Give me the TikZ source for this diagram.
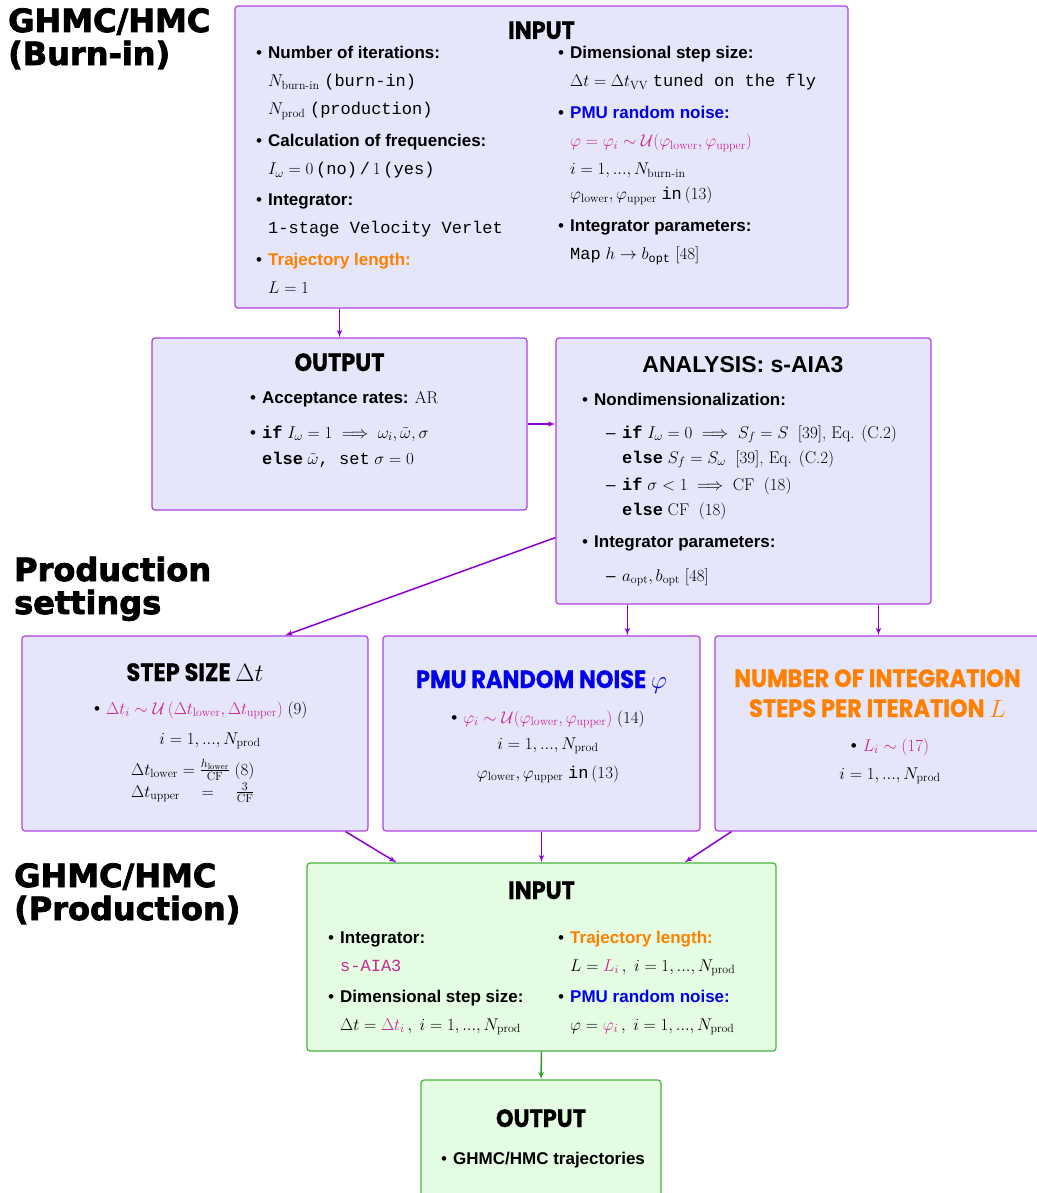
\RequirePackage{fix-cm}
\documentclass[tikz,border=0pt]{standalone}
\usepackage{amsmath}
\usepackage{fontspec}
\setsansfont{Liberation Sans}
\setmonofont{Liberation Mono}
\newfontfamily\headfont{Poppins}[FakeStretch=0.9, FakeBold=0.6]
\newfontfamily\sidefont{DejaVu Sans}[FakeBold=2.5]
\usepackage{tikz}
\usepgflibrary{arrows}
\usetikzlibrary{arrows.meta}

\definecolor{boxfill}{RGB}{230,230,250}
\definecolor{boxline}{RGB}{175,65,228}
\definecolor{arrowcol}{RGB}{140,0,210}
\definecolor{gfill}{RGB}{228,252,226}
\definecolor{gline}{RGB}{70,180,60}
\definecolor{garrow}{RGB}{40,160,30}
\definecolor{pinkm}{RGB}{200,40,145}
\definecolor{orng}{RGB}{255,128,0}
\definecolor{blu}{RGB}{0,0,235}

\newcommand{\bul}{\makebox[12pt][l]{\textbullet}}
\newcommand{\itm}[1]{\bul\textbf{#1}}
\newcommand{\subln}[1]{\hspace*{12pt}#1}
\newcommand{\dsh}{\hspace*{24pt}\makebox[16pt][l]{--}}
\newcommand{\dsub}{\hspace*{40pt}}
\newcommand{\lcol}[1]{\begin{tabular}[t]{@{}l@{}}#1\end{tabular}}
\newcommand{\ccol}[1]{\begin{tabular}[t]{@{}c@{}}#1\end{tabular}}

\begin{document}
\begin{tikzpicture}[x=1pt,y=-1pt]
			\tikzset{box/.style = {shape=rectangle, draw=boxline, fill=boxfill,
					rounded corners=3pt, line width=1.2pt, inner sep=0pt}}
			\tikzset{gbox/.style = {box, draw=gline, fill=gfill}}
			\tikzset{edge/.style = {->,> = latex', line width=1.5pt, arrowcol}}
			\tikzset{gedge/.style = {edge, garrow}}
			\tikzset{head/.style = {anchor=base, inner sep=0pt,
					font=\headfont\bfseries\fontsize{25}{30}\selectfont}}
			\tikzset{txt/.style = {anchor=base west, inner sep=0pt,
					font=\sffamily\fontsize{17}{28}\selectfont}}
			\tikzset{ctxt/.style = {txt, anchor=base}}
			\tikzset{side/.style = {anchor=base west, inner sep=0pt,
					font=\sidefont\bfseries\fontsize{32}{29}\selectfont}}
			
			\useasboundingbox (0,0) rectangle (1036,1193);
			
			% boxes
			\node[box, minimum width=613, minimum height=302] (in1) at (541.5,157) {};
			\node[box, minimum width=375, minimum height=172] (out1) at (339.5,424) {};
			\node[box, minimum width=375, minimum height=266] (an) at (743.5,471) {};
			\node[box, minimum width=346, minimum height=195] (step) at (195,733.5) {};
			\node[box, minimum width=317, minimum height=195] (pmu) at (541.5,733.5) {};
			\node[box, minimum width=327, minimum height=195] (num) at (878.5,733.5) {};
			\node[gbox, minimum width=469, minimum height=188] (gin) at (541.5,957) {};
			\node[gbox, minimum width=240, minimum height=125] (gout) at (541,1142.5) {};
			
			% side labels
			\node[side] (lblburn) at (8,32) {\lcol{GHMC/HMC\\(Burn-in)}};
			\node[side] (lblset) at (14,581) {\lcol{Production\\settings}};
			\node[side] (lblprod) at (14,887) {\lcol{GHMC/HMC\\(Production)}};
			
			% burn-in input
			\node[head] (in1h) at (541.5,39) {INPUT};
			\node[txt] (in1l) at (256,59) {\lcol{\itm{Number of iterations:}\\
				\subln{$N_{\textrm{burn-in}}$ \texttt{(burn-in)}}\\
				\subln{$N_{\mathrm{prod}}$ \texttt{(production)}}\\[4pt]
				\itm{Calculation of frequencies:}\\
				\subln{$I_\omega=0$\,\texttt{(no)\,/\,}$1$\,\texttt{(yes)}}\\[3pt]
				\itm{Integrator:}\\
				\subln{\texttt{1-stage Velocity Verlet}}\\[4pt]
				\itm{\color{orng}Trajectory length:}\\
				\subln{$L=1$}}};
			\node[txt] (in1r) at (558,59) {\lcol{\itm{Dimensional step size:}\\
				\subln{$\Delta t=\Delta t_{\mathrm{VV}}$ \texttt{tuned on the fly}}\\[4pt]
				\itm{\color{blu}PMU random noise:}\\
				\subln{\color{pinkm}$\varphi=\varphi_i\sim\mathcal{U}(\varphi_{\mathrm{lower}},\varphi_{\mathrm{upper}})$}\\
				\subln{$i=1,...,N_{\textrm{burn-in}}$}\\[-3pt]
				\subln{$\varphi_{\mathrm{lower}},\varphi_{\mathrm{upper}}$ \texttt{in}\,$(13)$}\\[4pt]
				\itm{Integrator parameters:}\\
				\subln{\texttt{Map} $h\rightarrow b_{\texttt{opt}}$ $[48]$}}};
			
			% burn-in output
			\node[head] (out1h) at (339.5,371) {OUTPUT};
			\node[txt] (out1t) at (250,403) {\lcol{\itm{Acceptance rates:} $\mathrm{AR}$\\[7pt]
				\bul\texttt{\bfseries if} $I_\omega=1\implies\omega_i,\tilde{\omega},\sigma$\\[-2pt]
				\subln{\texttt{\bfseries else} $\tilde{\omega}$\texttt{, set} $\sigma=0$}}};
			
			% analysis
			\node[head, font=\sffamily\bfseries\fontsize{23}{28}\selectfont] (anh) at (743,372) {ANALYSIS: s-AIA3};
			\node[txt, font=\sffamily\fontsize{17}{26}\selectfont] (ant) at (582,405) {\lcol{\itm{Nondimensionalization:}\\[7pt]
				\dsh\texttt{\bfseries if} $I_\omega=0\implies S_f=S$\ \ \textrm{[39], Eq. (C.2)}\\[-1pt]
				\dsub\texttt{\bfseries else} $S_f=S_\omega$\ \ \textrm{[39], Eq. (C.2)}\\[1pt]
				\dsh\texttt{\bfseries if} $\sigma<1\implies\mathrm{CF}$\ \ $(18)$\\[-1pt]
				\dsub\texttt{\bfseries else} $\mathrm{CF}$\ \ $(18)$\\[6pt]
				\itm{Integrator parameters:}\\[8pt]
				\dsh$a_{\mathrm{opt}},b_{\mathrm{opt}}$ $[48]$}};
			
			% production settings
			\node[head] (steph) at (195,681) {STEP SIZE $\Delta t$};
			\node[txt] (stepa) at (94,714) {\bul\textcolor{pinkm}{$\Delta t_i\sim\mathcal{U}\left(\Delta t_{\mathrm{lower}},\Delta t_{\mathrm{upper}}\right)$}~$(9)$};
			\node[ctxt] (stepb) at (210,744) {$i=1,...,N_{\mathrm{prod}}$};
			\node[txt] (stepc) at (131,775) {\lcol{$\Delta t_{\mathrm{lower}}=\frac{h_{\mathrm{lower}}}{\mathrm{CF}}\ (8)$\\[-6pt]
				$\Delta t_{\mathrm{upper}}\quad=\quad\frac{3}{\mathrm{CF}}$}};
			
			\node[head, text=blu] (pmuh) at (541.5,688) {PMU RANDOM NOISE $\varphi$};
			\node[ctxt] (pmut) at (548,723) {\ccol{\bul\textcolor{pinkm}{$\varphi_i\sim\mathcal{U}(\varphi_{\mathrm{lower}},\varphi_{\mathrm{upper}})$}~$(14)$\\[-2pt]
				$i=1,...,N_{\mathrm{prod}}$\\[1pt]
				$\varphi_{\mathrm{lower}},\varphi_{\mathrm{upper}}$ \texttt{in}\,$(13)$}};
			
			\node[head, text=orng] (numh) at (877.5,687) {\ccol{NUMBER OF INTEGRATION\\STEPS PER ITERATION $L$}};
			\node[ctxt] (numt) at (890,751) {\ccol{\bul\textcolor{pinkm}{$L_i\sim(17)$}\\
				$i=1,...,N_{\mathrm{prod}}$}};
			
			% production input / output
			\node[head] (ginh) at (541.5,899) {INPUT};
			\node[txt] (ginl) at (328,943) {\lcol{\itm{Integrator:}\\
				\subln{\texttt{\color{pinkm}s-AIA3}}\\[3pt]
				\itm{Dimensional step size:}\\
				\subln{$\Delta t=\textcolor{pinkm}{\Delta t_i}\,,\ i=1,...,N_{\mathrm{prod}}$}}};
			\node[txt] (ginr) at (558,943) {\lcol{\itm{\color{orng}Trajectory length:}\\
				\subln{$L=\textcolor{pinkm}{L_i}\,,\ i=1,...,N_{\mathrm{prod}}$}\\[3pt]
				\itm{\color{blu}PMU random noise:}\\
				\subln{$\varphi=\textcolor{pinkm}{\varphi_i}\,,\ i=1,...,N_{\mathrm{prod}}$}}};
			
			\node[head] (gouth) at (541,1127) {OUTPUT};
			\node[txt] (goutt) at (441,1164) {\itm{GHMC/HMC trajectories}};
			
			%edges
			\draw[edge] (in1.south -| out1.north) -- (out1.north);
			\draw[edge] (out1.east) -- (an.west |- out1.east);
			\draw[edge] ([yshift=67pt]an.south west) -- ([xshift=90pt]step.north);
			\draw[edge] ([xshift=72pt]an.south west) -- ([xshift=72pt]an.south west |- pmu.north);
			\draw[edge] (an.south -| num.north) -- (num.north);
			\draw[edge] ([xshift=-23pt]step.south east) -- ([xshift=90pt]gin.north west);
			\draw[edge] (pmu.south) -- (gin.north);
			\draw[edge] ([xshift=17pt]num.south west) -- ([xshift=-92pt]gin.north east);
			\draw[gedge] (gin.south) -- (gout.north);
\end{tikzpicture}
\end{document}
